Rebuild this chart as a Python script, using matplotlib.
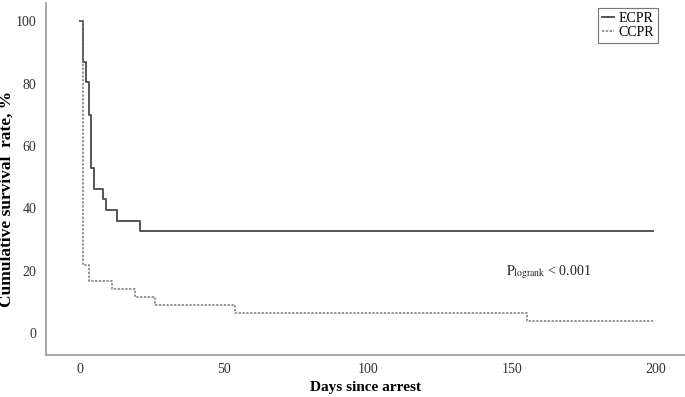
import matplotlib

matplotlib.use("Agg")

import matplotlib.pyplot as plt

# Kaplan-Meier step data (day of drop, survival % after drop)
ecpr_days = [0, 1, 2, 3, 4, 5, 8, 9, 13, 21, 199]
ecpr_surv = [100, 87, 80.5, 70, 53, 46.3, 43, 39.5, 36, 32.7, 32.7]

ccpr_days = [0, 1, 3, 11, 19, 26, 54, 155, 199]
ccpr_surv = [100, 21.8, 16.7, 14.0, 11.5, 9.0, 6.5, 4.0, 4.0]

x_ticks = [0, 50, 100, 150, 200]
y_ticks = [0, 20, 40, 60, 80, 100]

plt.rcParams["font.family"] = ["Liberation Serif", "DejaVu Serif"]
plt.rcParams["mathtext.fontset"] = "stix"

fig = plt.figure(figsize=(6.85, 3.97), dpi=100)
ax = fig.add_axes([0.067, 0.106, 0.933, 0.886])

ax.step(ecpr_days, ecpr_surv, where="post", color="#555555", lw=1.4, label="ECPR")
ax.step(ccpr_days, ccpr_surv, where="post", color="#777777", lw=1.1,
        linestyle=(0, (1.5, 1.0)), label="CCPR")

ax.set_xlim(-11.8, 210)
ax.set_ylim(-7, 105.8)
ax.set_xticks(x_ticks)
ax.set_yticks(y_ticks)
ax.tick_params(length=0, labelsize=10, colors="#333333")
ax.tick_params(axis="x", pad=6)
ax.tick_params(axis="y", pad=7)

for side in ("top", "right"):
    ax.spines[side].set_visible(False)
for side in ("left", "bottom"):
    ax.spines[side].set_color("#999999")
    ax.spines[side].set_linewidth(1.2)

ax.set_xlabel("Days since arrest", fontsize=11, fontweight="bold")
ax.set_ylabel("Cumulative survival  rate, %", fontsize=12.5, fontweight="bold")
ax.xaxis.set_label_coords(0.5, -0.074)
ax.yaxis.set_label_coords(-0.049, 0.443)

ax.text(148, 19.5, r"$\mathrm{P}_{\mathrm{logrank}}$ < 0.001", fontsize=10,
        va="center", ha="left", color="#222222")

leg = ax.legend(loc="upper right", bbox_to_anchor=(0.958, 0.987), fontsize=10,
                handlelength=0.9, handletextpad=0.3, borderpad=0.3,
                labelspacing=0.1, borderaxespad=0, fancybox=False, framealpha=1)
leg.get_frame().set_edgecolor("#777777")
leg.get_frame().set_linewidth(0.8)

fig.savefig("out.png", dpi=100)
plt.close(fig)
